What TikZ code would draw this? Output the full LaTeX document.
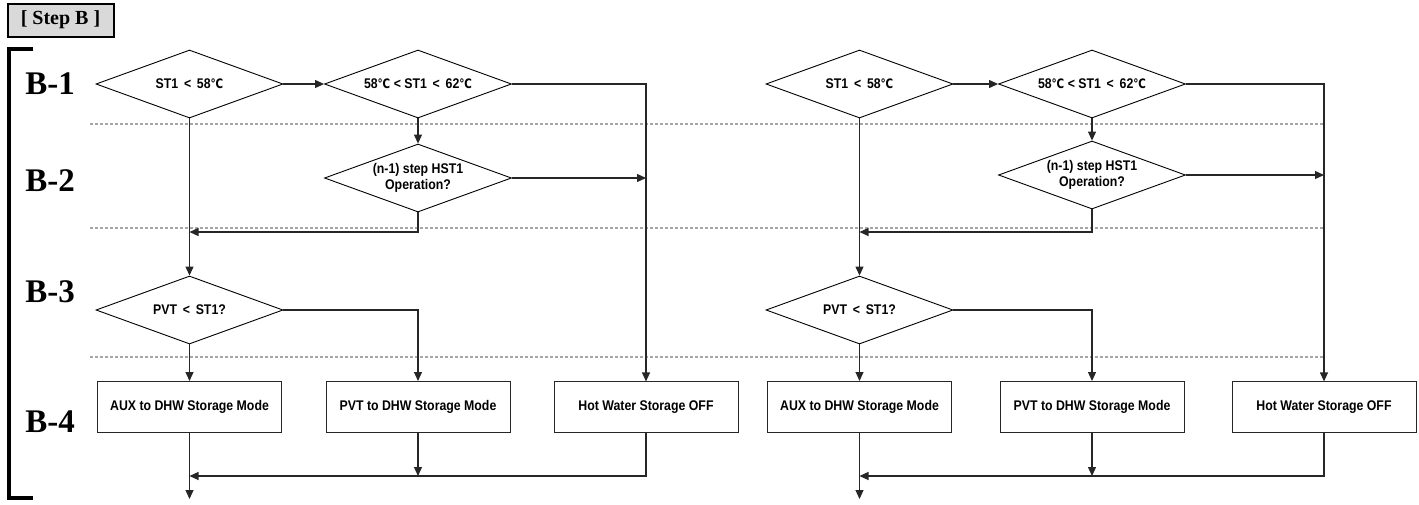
\documentclass[tikz,border=0pt]{standalone}
\usepackage{fontspec}
\setmainfont{Liberation Sans}
\newfontfamily\nodefont[FakeStretch=0.88]{Liberation Sans}
\newfontfamily\serifb{Liberation Serif}
\newfontfamily\djv[FakeStretch=0.8]{DejaVu Sans}
\usetikzlibrary{shapes.geometric,arrows.meta}
\newcommand\degC{{\djv\fontsize{13}{15}\selectfont ℃}}
\tikzset{
  dec/.style={diamond, draw=black, line width=0.9pt, minimum width=187pt, minimum height=68pt,
    inner sep=0pt, aspect=2.75, align=center, font=\nodefont\bfseries\fontsize{14}{16}\selectfont},
  boxn/.style={rectangle, draw=black!85, line width=1pt, minimum width=184pt, minimum height=51pt,
    inner sep=0pt, font=\nodefont\bfseries\fontsize{14}{16}\selectfont},
  arr/.style={draw=black!85, line width=1.2pt, -{Triangle[length=9pt,width=8pt]}},
  sepline/.style={draw=black!35, line width=2.5pt, dash pattern=on 3pt off 2pt},
  lab/.style={font=\serifb\bfseries\fontsize{33}{36}\selectfont, inner sep=0pt},
}
\newcommand\flowpanel[5]{%
  \node[dec] (d1#1) at (#2,84) {ST1 \,<\, 58\degC};
  \node[dec] (d2#1) at (#3,84) {58\degC\ < ST1 \,<\, 62\degC};
  \node[dec] (d3#1) at (#3,#5) {(n-1) step HST1\\Operation?};
  \node[dec] (d4#1) at (#2,310) {PVT \,<\, ST1?};
  \node[boxn] (aux#1) at (#2,407) {AUX to DHW Storage Mode};
  \node[boxn] (pvt#1) at (#3,407) {PVT to DHW Storage Mode};
  \node[boxn] (off#1) at (#4,407.4) {Hot Water Storage OFF};
  \coordinate (j#1) at (#2,232);
  \coordinate (m#1) at (#2,476);
  \coordinate (e#1) at (#2,499);
  \draw[arr] (d1#1.east) -- (d2#1.west);
  \draw[arr] (d2#1.east) -| (off#1.north);
  \draw[arr] (d2#1.south) -- (d3#1.north);
  \draw[arr] (d3#1.east) -- (d3#1.east -| off#1.north);
  \draw[arr] (d3#1.south) |- (j#1);
  \draw[arr] (d1#1.south) -- (d4#1.north);
  \draw[arr] (d4#1.south) -- (aux#1.north);
  \draw[arr] (d4#1.east) -| (pvt#1.north);
  \draw[arr] (aux#1.south) -- (e#1);
  \draw[arr] (pvt#1.south) -- (pvt#1.south |- m#1);
  \draw[arr] (off#1.south) |- (m#1);
}
\begin{document}
\begin{tikzpicture}[x=1pt,y=-1pt]
  \useasboundingbox (0,0) rectangle (1419,504);
  % separators
  \draw[sepline] (90,124) -- (1323,124);
  \draw[sepline] (90,228) -- (1323,228);
  \draw[sepline] (90,357) -- (1323,357);
  % title box
  \node[draw=black, line width=2pt, fill=black!15, minimum width=106pt, minimum height=33pt,
    inner sep=0pt, font=\serifb\bfseries\fontsize{20}{22}\selectfont] (title) at (60.5,20) {[ Step B ]};
  % bracket
  \draw[line width=4pt] (33,49) -- (9,49) -- (9,498) -- (33,498);
  % row labels
  \node[lab] (b1) at (50,84) {B-1};
  \node[lab] (b2) at (50,181) {B-2};
  \node[lab] (b3) at (50,292) {B-3};
  \node[lab] (b4) at (50,422) {B-4};
  \flowpanel{L}{189.5}{418}{646}{178}
  \flowpanel{R}{859.5}{1092}{1324}{175}
\end{tikzpicture}
\end{document}
